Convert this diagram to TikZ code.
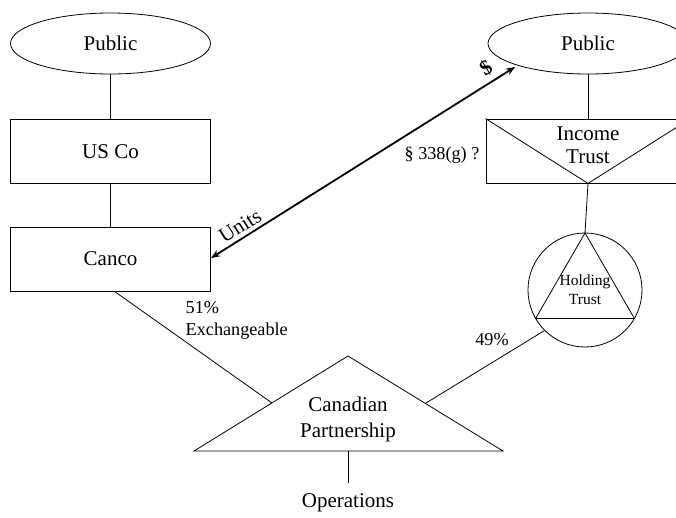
\documentclass[tikz,border=0pt]{standalone}
\usepackage{fontspec}
\setmainfont{Liberation Serif}
\usetikzlibrary{shapes.geometric,arrows.meta}
\begin{document}
\begin{tikzpicture}[x=1pt,y=-1pt,
  line width=0.8pt,
  big/.style={font=\fontsize{21}{24}\selectfont, align=center},
  small/.style={font=\fontsize{18.2}{22}\selectfont, align=left},
  tiny/.style={font=\fontsize{15.5}{19}\selectfont, align=center},
  oval/.style={draw, ellipse, minimum width=200, minimum height=61, inner sep=0},
  entity/.style={draw, rectangle, minimum width=200, minimum height=64, inner sep=0},
  link/.style={line width=0.8pt},
  flow/.style={line width=1.8pt, {Stealth[length=9pt,width=7pt]}-{Stealth[length=9pt,width=7pt]}}]
\useasboundingbox (0,0) rectangle (676,517);
\clip (0,0) rectangle (676,517);

% left-hand chain
\node[oval, big] (pubL) at (110.5,43.5) {Public};
\node[entity, big] (usco) at (110.5,151.5) {US Co};
\node[entity, big] (canco) at (110.5,259) {Canco};
\draw[link] (pubL.south) -- (usco.north);
\draw[link] (usco.south) -- (canco.north);

% right-hand chain
\node[oval, big] (pubR) at (588,43.5) {Public};
\node[entity, minimum width=204] (itrust) at (588,151) {};
\draw[link] (itrust.north west) -- (itrust.south) -- (itrust.north east);
\node[big, font=\fontsize{21}{23}\selectfont] (itxt) at (588,145) {Income\\Trust};
\draw[link] (pubR.south) -- (itrust.north);

% holding trust: circle with inscribed triangle
\node[draw, circle, minimum size=114, inner sep=0] (htrust) at (585,290) {};
\coordinate (htA) at (585,233);
\coordinate (htB) at (535.6,318.5);
\coordinate (htC) at (634.4,318.5);
\draw[link] (htA) -- (htB) -- (htC) -- cycle;
\node[tiny, font=\fontsize{15.5}{19}\selectfont] (htxt) at (585,290) {Holding\\Trust};
\draw[link] (itrust.south) -- (htA);

% Canadian partnership triangle
\coordinate (cpA) at (348,356);
\coordinate (cpL) at (194,451);
\coordinate (cpR) at (503,451);
\coordinate (cpB) at (348,451);
\draw[link] (cpA) -- (cpL) -- (cpR) -- cycle;
\node[big, font=\fontsize{21}{26}\selectfont] (cptxt) at (348,419) {Canadian\\Partnership};
\coordinate (cpLin) at (272,403);
\coordinate (cpRin) at (426,403);
\draw[link] (canco.south) ++(4,0) coordinate (cancoOut) -- (cpLin);
\draw[link] (htrust.225) -- (cpRin);

% operations
\coordinate (opTop) at (348,483);
\draw[link] (cpB) -- (opTop);
\node[big] (ops) at (348,503) {Operations};

% ownership labels
\node[small, anchor=west, font=\fontsize{18.2}{22}\selectfont] (pct51) at (182,320) {51\%\\Exchangeable};
\node[small] (pct49) at (492,340) {49\%};

% units for cash
\coordinate (arrL) at (211,258);
\coordinate (arrR) at (515,67);
\draw[flow] (arrL) -- (arrR);
\node[big, rotate=32] (units) at (240,226) {Units};
\node[big, rotate=32, font=\bfseries\fontsize{21}{24}\selectfont] (cash) at (486,68) {\$};
\node[small] (sec338) at (442,155) {\S\ 338(g) ?};
\end{tikzpicture}
\end{document}
